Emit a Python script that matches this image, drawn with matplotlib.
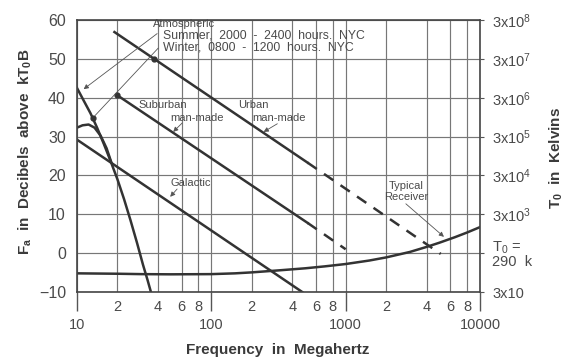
import matplotlib
matplotlib.use('Agg')
import matplotlib.pyplot as plt

plt.rcParams['font.family'] = ['Liberation Sans', 'DejaVu Sans']
plt.rcParams['mathtext.fontset'] = 'custom'
plt.rcParams['mathtext.rm'] = 'Liberation Sans'
plt.rcParams['mathtext.bf'] = 'Liberation Sans:bold'
plt.rcParams['mathtext.it'] = 'Liberation Sans:italic'
plt.rcParams['mathtext.default'] = 'rm'

# noise curves, frequency in MHz, level in dB above kT0B
urban_f = [19, 520]
urban_db = [56.9, 23.3]
urban_ext_f = [520, 5100]
urban_ext_db = [23.3, -0.2]

suburban_f = [20, 520]
suburban_db = [40.6, 7.8]
suburban_ext_f = [520, 1000]
suburban_ext_db = [7.8, 1.0]

galactic_f = [10, 475]
galactic_db = [29.2, -10]

summer_f = [10, 11.2, 12.6, 14.1, 15.8, 17.6, 20, 22.4, 25, 28, 31, 33.5, 35.5]
summer_db = [42.5, 39.3, 36.0, 32.3, 28.2, 24.1, 19, 13.9, 8.5, 2.6, -3.0, -6.9, -10]

winter_f = [10, 11, 12.2, 13.5, 15, 16.6, 18]
winter_db = [32.3, 32.9, 33.1, 32.3, 30.2, 27.0, 23.4]

receiver_f = [10, 20, 30, 50, 100, 150, 200, 300, 500, 700, 1000, 1500, 2000,
              3000, 4000, 5000, 6500, 8000, 10000]
receiver_db = [-5.2, -5.3, -5.4, -5.45, -5.4, -5.2, -4.95, -4.5, -3.9, -3.4,
               -2.8, -1.9, -1.1, 0.3, 1.6, 2.7, 4.1, 5.3, 6.7]

db_ticks = [-10, 0, 10, 20, 30, 40, 50, 60]
kelvin_labels = ['3x10', 'T$_0$ =\n290  k', '3x10$^3$', '3x10$^4$', '3x10$^5$',
                 '3x10$^6$', '3x10$^7$', '3x10$^8$']
major_f = [10, 100, 1000, 10000]
minor_f = [20, 40, 60, 80, 200, 400, 600, 800, 2000, 4000, 6000, 8000]
minor_labels = ['2', '4', '6', '8'] * 3

line_c = '#333333'
text_c = '#4a4a4a'
grid_c = '#777777'

fig = plt.figure(figsize=(5.71, 3.63), dpi=100)
ax = fig.add_axes([77 / 571, 1 - 292 / 363, 403 / 571, 272 / 363])
ax.set_xscale('log')
ax.set_xlim(10, 10000)
ax.set_ylim(-10, 60)

ax.set_xticks(major_f)
ax.set_xticklabels([str(f) for f in major_f])
ax.set_xticks(minor_f, minor=True)
ax.set_xticklabels(minor_labels, minor=True)
ax.set_yticks(db_ticks)
ax.tick_params(axis='x', which='major', length=14, width=1, color='#555555',
               pad=5, labelsize=10.5, labelcolor=text_c)
ax.tick_params(axis='x', which='minor', length=0, pad=6, labelsize=10.5,
               labelcolor=text_c)
ax.tick_params(axis='y', length=0, pad=8, labelsize=11.5, labelcolor=text_c)
ax.grid(which='both', color=grid_c, lw=0.85)
ax.set_axisbelow(True)
for s in ax.spines.values():
    s.set_color('#444444')
    s.set_linewidth(1.2)

ax2 = ax.twinx()
ax2.set_ylim(-10, 60)
ax2.set_yticks(db_ticks)
ax2.set_yticklabels(kelvin_labels, linespacing=0.95)
ax2.tick_params(axis='y', length=3, color='#555555', pad=6, labelsize=10.5,
                labelcolor=text_c)
for s in ax2.spines.values():
    s.set_visible(False)

lw = 1.8
dash = (0, (4.5, 3.5))
ax.plot(urban_f, urban_db, color=line_c, lw=lw)
ax.plot(urban_ext_f, urban_ext_db, color=line_c, lw=lw, ls=dash)
ax.plot(suburban_f, suburban_db, color=line_c, lw=lw)
ax.plot(suburban_ext_f, suburban_ext_db, color=line_c, lw=lw, ls=dash)
ax.plot(galactic_f, galactic_db, color=line_c, lw=lw)
ax.plot(summer_f, summer_db, color=line_c, lw=lw)
ax.plot(winter_f, winter_db, color=line_c, lw=lw)
ax.plot(receiver_f, receiver_db, color=line_c, lw=lw)

# dots where the winter leader crosses the curves
ax.plot([20, 37.5, 13.2], [40.6, 50, 34.9], 'o', color=line_c, ms=3.5)

fs = 8
ax.text(36.5, 59, 'Atmospheric', fontsize=fs, color=text_c, va='center')
ax.text(43.8, 56, 'Summer,  2000  -  2400  hours.  NYC', fontsize=8.8,
        color=text_c, va='center')
ax.text(43.8, 52.9, 'Winter,  0800  -  1200  hours.  NYC', fontsize=8.8,
        color=text_c, va='center')
arrow = dict(arrowstyle='-|>', color='#555555', lw=0.6, mutation_scale=7,
             shrinkA=0, shrinkB=0)
ax.annotate('', xy=(11.2, 42.2), xytext=(39.5, 56.5), arrowprops=arrow)
ax.annotate('', xy=(13.2, 34.9), xytext=(41.6, 53.3),
            arrowprops=dict(arrowstyle='-', color='#555555', lw=0.6))

ax.text(28.5, 38, 'Suburban', fontsize=fs, color=text_c, va='center')
ax.text(49.4, 34.7, 'man-made', fontsize=fs, color=text_c, va='center')
ax.annotate('', xy=(52, 31.2), xytext=(60.7, 33.5), arrowprops=arrow)

ax.text(158, 38, 'Urban', fontsize=fs, color=text_c, va='center')
ax.text(202, 34.7, 'man-made', fontsize=fs, color=text_c, va='center')
ax.annotate('', xy=(245, 31.2), xytext=(310, 33.3), arrowprops=arrow)

ax.text(49.4, 18, 'Galactic', fontsize=fs, color=text_c, va='center')
ax.annotate('', xy=(49.4, 14.5), xytext=(55.6, 16.5), arrowprops=arrow)

ax.text(2806, 17.4, 'Typical', fontsize=fs, color=text_c, ha='center', va='center')
ax.text(2806, 14.5, 'Receiver', fontsize=fs, color=text_c, ha='center', va='center')
ax.annotate('', xy=(5390, 4.2), xytext=(2806, 12.7), arrowprops=arrow)

fig.text(25 / 571, 1 - 152 / 363, r'F$_\mathbf{a}$  in  Decibels  above  kT$_\mathbf{0}$B',
         rotation=90, ha='center', va='center', fontsize=11, fontweight='bold',
         color='#3a3a3a')
fig.text(556 / 571, 1 - 158 / 363, r'T$_\mathbf{0}$  in  Kelvins', rotation=90,
         ha='center', va='center', fontsize=11, fontweight='bold', color='#3a3a3a')
fig.text(278 / 571, 1 - 350 / 363, 'Frequency  in  Megahertz', ha='center',
         va='center', fontsize=11, fontweight='bold', color='#3a3a3a')

fig.savefig('out.png', dpi=100, facecolor='white')
